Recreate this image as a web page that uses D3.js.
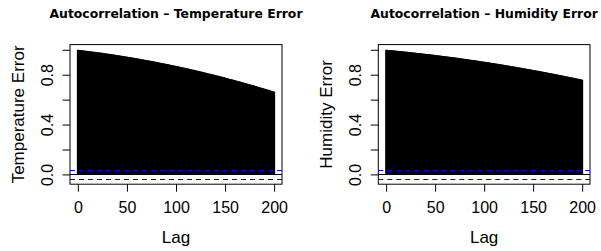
<!DOCTYPE html>
<html lang="en">
<head>
<meta charset="UTF-8">
<title>Autocorrelation of errors</title>
<style>
    body { margin: 0; background: #fff; }
    svg text { font-family: "Liberation Sans", Arial, Helvetica, sans-serif; fill: #000; }
    .main-title { font-family: "DejaVu Sans", sans-serif; font-weight: bold; font-size: 12.4px; }
    .axis-title { font-size: 17px; }
    .tick text { font-size: 16px; }
</style>
</head>
<body>
<div id="chart"></div>
<script src="https://d3js.org/d3.v7.min.js"></script>
<script>
// ACF estimates, lag 0..200
const tempAcf = [
    1.000,0.999,0.998,0.997,0.996,0.995,0.994,0.993,0.992,0.991,
    0.990,0.989,0.988,0.987,0.986,0.985,0.984,0.983,0.982,0.981,
    0.980,0.979,0.978,0.977,0.976,0.975,0.974,0.972,0.971,0.970,
    0.969,0.968,0.967,0.966,0.964,0.963,0.962,0.961,0.960,0.958,
    0.957,0.956,0.955,0.953,0.952,0.951,0.950,0.948,0.947,0.946,
    0.944,0.943,0.942,0.941,0.939,0.938,0.937,0.935,0.934,0.932,
    0.931,0.930,0.928,0.927,0.926,0.924,0.923,0.921,0.920,0.918,
    0.917,0.916,0.914,0.913,0.911,0.910,0.908,0.907,0.905,0.904,
    0.902,0.901,0.899,0.897,0.896,0.894,0.893,0.891,0.890,0.888,
    0.886,0.885,0.883,0.882,0.880,0.878,0.877,0.875,0.873,0.872,
    0.870,0.868,0.867,0.865,0.863,0.862,0.860,0.858,0.856,0.855,
    0.853,0.851,0.849,0.848,0.846,0.844,0.842,0.840,0.839,0.837,
    0.835,0.833,0.831,0.829,0.827,0.826,0.824,0.822,0.820,0.818,
    0.816,0.814,0.812,0.810,0.808,0.807,0.805,0.803,0.801,0.799,
    0.797,0.795,0.793,0.791,0.789,0.787,0.785,0.783,0.781,0.779,
    0.777,0.774,0.772,0.770,0.768,0.766,0.764,0.762,0.760,0.758,
    0.756,0.753,0.751,0.749,0.747,0.745,0.743,0.740,0.738,0.736,
    0.734,0.732,0.729,0.727,0.725,0.723,0.720,0.718,0.716,0.714,
    0.711,0.709,0.707,0.704,0.702,0.700,0.697,0.695,0.693,0.690,
    0.688,0.686,0.683,0.681,0.679,0.676,0.674,0.671,0.669,0.666,
    0.664
];

const humAcf = [
    1.000,0.999,0.998,0.998,0.997,0.996,0.996,0.995,0.994,0.993,
    0.993,0.992,0.991,0.990,0.989,0.989,0.988,0.987,0.986,0.985,
    0.985,0.984,0.983,0.982,0.981,0.980,0.980,0.979,0.978,0.977,
    0.976,0.975,0.974,0.974,0.973,0.972,0.971,0.970,0.969,0.968,
    0.967,0.966,0.965,0.965,0.964,0.963,0.962,0.961,0.960,0.959,
    0.958,0.957,0.956,0.955,0.954,0.953,0.952,0.951,0.950,0.949,
    0.948,0.947,0.946,0.945,0.944,0.943,0.942,0.941,0.940,0.939,
    0.938,0.937,0.936,0.935,0.933,0.932,0.931,0.930,0.929,0.928,
    0.927,0.926,0.925,0.924,0.922,0.921,0.920,0.919,0.918,0.917,
    0.916,0.915,0.913,0.912,0.911,0.910,0.909,0.907,0.906,0.905,
    0.904,0.903,0.901,0.900,0.899,0.898,0.897,0.895,0.894,0.893,
    0.892,0.890,0.889,0.888,0.887,0.885,0.884,0.883,0.882,0.880,
    0.879,0.878,0.876,0.875,0.874,0.872,0.871,0.870,0.868,0.867,
    0.866,0.864,0.863,0.862,0.860,0.859,0.858,0.856,0.855,0.853,
    0.852,0.851,0.849,0.848,0.846,0.845,0.844,0.842,0.841,0.839,
    0.838,0.836,0.835,0.834,0.832,0.831,0.829,0.828,0.826,0.825,
    0.823,0.822,0.820,0.819,0.817,0.816,0.814,0.813,0.811,0.810,
    0.808,0.807,0.805,0.804,0.802,0.800,0.799,0.797,0.796,0.794,
    0.793,0.791,0.789,0.788,0.786,0.785,0.783,0.781,0.780,0.778,
    0.777,0.775,0.773,0.772,0.770,0.768,0.767,0.765,0.763,0.762,
    0.760
];

const titles = ["Autocorrelation \u2013 Temperature Error", "Autocorrelation \u2013 Humidity Error"];
const yLabels = ["Temperature Error", "Humidity Error"];
const xLabel = "Lag";
const xTicks = [0, 50, 100, 150, 200];
const yTicks = [0, 0.2, 0.4, 0.6, 0.8, 1.0];
const yTickLabels = ["0.0", "", "0.4", "", "0.8", ""];
const ciBound = 0.037;   // approx 1.96/sqrt(n)

const width = 601, height = 251;
const plotTop = 44.6, plotBottom = 184.2;
const panels = [
    { acf: tempAcf, title: titles[0], ylab: yLabels[0], left: 70, right: 282 },
    { acf: humAcf,  title: titles[1], ylab: yLabels[1], left: 378.3, right: 590 }
];

const svg = d3.select("#chart").append("svg")
    .attr("width", width)
    .attr("height", height);

// R-style 4% padding around data range
const y = d3.scaleLinear()
    .domain([-0.0785, 1.0415])
    .range([plotBottom, plotTop]);

// snap horizontal 1px rules onto pixel centres
const crisp = v => Math.round(v) + 0.5;

panels.forEach(p => {
    const x = d3.scaleLinear()
        .domain([-8, 208])
        .range([p.left, p.right]);

    const g = svg.append("g");

    // acf spikes (dense enough to merge into a solid area)
    g.append("g")
        .selectAll("line")
        .data(p.acf)
        .enter()
        .append("line")
        .attr("x1", (d, i) => x(i))
        .attr("x2", (d, i) => x(i))
        .attr("y1", y(0))
        .attr("y2", d => y(d))
        .attr("stroke", "#000")
        .attr("stroke-width", 2);

    // zero line
    g.append("line")
        .attr("x1", p.left).attr("x2", p.right)
        .attr("y1", crisp(y(0))).attr("y2", crisp(y(0)))
        .attr("stroke", "#000").attr("stroke-width", 1);

    // confidence bounds
    g.selectAll("line.ci")
        .data([ciBound, -ciBound])
        .enter()
        .append("line")
        .attr("class", "ci")
        .attr("x1", p.left).attr("x2", p.right)
        .attr("y1", d => crisp(y(d))).attr("y2", d => crisp(y(d)))
        .attr("stroke", "#0000ff")
        .attr("stroke-width", 1)
        .attr("stroke-dasharray", "5,4");

    // box
    g.append("rect")
        .attr("x", p.left).attr("y", plotTop)
        .attr("width", p.right - p.left).attr("height", plotBottom - plotTop)
        .attr("fill", "none").attr("stroke", "#000").attr("stroke-width", 1);

    // x axis
    const xAxis = g.append("g")
        .attr("transform", `translate(0,${plotBottom})`)
        .call(d3.axisBottom(x).tickValues(xTicks).tickSize(7.5).tickPadding(10).tickSizeOuter(0));
    xAxis.select(".domain").remove();
    xAxis.selectAll(".tick line").attr("stroke", "#000");

    // y axis
    const yAxis = g.append("g")
        .attr("transform", `translate(${p.left},0)`)
        .call(d3.axisLeft(y).tickValues(yTicks).tickSize(7.5).tickSizeOuter(0)
            .tickFormat((d, i) => yTickLabels[i]));
    yAxis.select(".domain").remove();
    yAxis.selectAll(".tick line").attr("stroke", "#000");
    yAxis.selectAll(".tick text")
        .attr("x", 0)
        .attr("y", -23)
        .attr("dy", "0.35em")
        .attr("text-anchor", "middle")
        .attr("transform", "rotate(-90)");

    // titles
    const cx = (p.left + p.right) / 2;
    g.append("text")
        .attr("class", "main-title")
        .attr("x", cx).attr("y", 17.5)
        .attr("text-anchor", "middle")
        .text(p.title);

    g.append("text")
        .attr("class", "axis-title")
        .attr("x", cx).attr("y", 242.5)
        .attr("text-anchor", "middle")
        .text(xLabel);

    g.append("text")
        .attr("class", "axis-title")
        .attr("transform", `translate(${p.left - 52},${(plotTop + plotBottom) / 2}) rotate(-90)`)
        .attr("dy", "0.35em")
        .attr("text-anchor", "middle")
        .text(p.ylab);
});
</script>
</body>
</html>
